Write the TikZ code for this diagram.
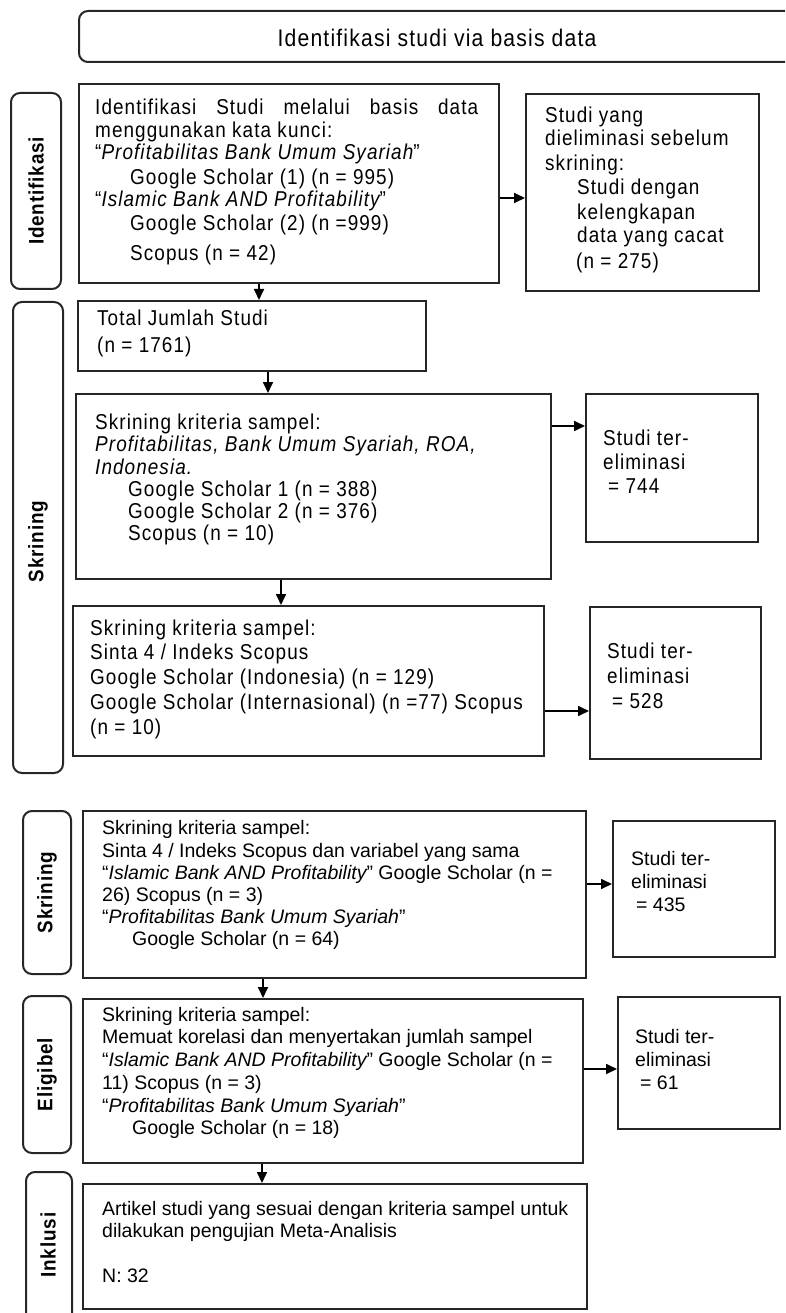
\documentclass[tikz,border=0pt]{standalone}
\usepackage{fontspec}
\setmainfont{Liberation Sans}
\newfontfamily\upf[FakeStretch=0.88,LetterSpace=5]{Liberation Sans}
\newfontfamily\labf[FakeStretch=0.9,LetterSpace=4]{Liberation Sans}
\usetikzlibrary{arrows.meta,calc}
\tikzset{
  box/.style={draw=black!85, line width=2pt, anchor=north west, inner sep=0pt},
  lab/.style={draw=black!85, line width=2pt, rounded corners=9pt, anchor=north west, inner sep=0pt},
  ut/.style={anchor=west, inner sep=0pt, font=\upf\fontsize{21.5}{23}\selectfont, text height=0.75em, text depth=0.25em},
  lt/.style={anchor=west, inner sep=0pt, font=\fontsize{19.5}{23}\selectfont, text height=0.75em, text depth=0.25em},
  labt/.style={rotate=90, inner sep=0pt, font=\labf\bfseries\fontsize{21}{23}\selectfont},
  arr/.style={line width=1.7pt, draw=black, -{Triangle[length=11pt,width=10pt]}},
}
\newcommand\mkbox[6]{\node[#1, minimum width=#4pt-#2pt, minimum height=#5pt-#3pt] (#6) at (#2,#3) {};}
\begin{document}
\begin{tikzpicture}[x=1pt,y=-1pt]
\useasboundingbox (0,0) rectangle (785,1313);
\clip (0,0) rectangle (785,1313);
% header
\mkbox{lab}{78}{10}{800}{61}{head}
\node[inner sep=0pt, font=\upf\fontsize{24}{26}\selectfont] (headt) at (437,38) {Identifikasi studi via basis data};
% labels
\mkbox{lab}{10}{92}{60}{288}{lab1}
\mkbox{lab}{12}{301}{62}{772}{lab2}
\mkbox{lab}{22}{810}{70}{973}{lab3}
\mkbox{lab}{22}{995}{70}{1152}{lab4}
\mkbox{lab}{25}{1171}{71}{1330}{lab5}
\node[labt] (lab1t) at (lab1.center) {Identifikasi};
\node[labt] (lab2t) at ([yshift=-4pt]lab2.center) {Skrining};
\node[labt] (lab3t) at (lab3.center) {Skrining};
\node[labt] (lab4t) at (lab4.center) {Eligibel};
\node[labt] (lab5t) at (48,1245) {Inklusi};
% boxes
\mkbox{box}{78}{83}{498}{282}{id}
\mkbox{box}{525}{93}{758}{290}{el1}
\mkbox{box}{77}{300}{425}{370}{tot}
\mkbox{box}{75}{393}{550}{578}{s1}
\mkbox{box}{585}{393}{757}{541}{el2}
\mkbox{box}{72}{605}{543}{755}{s2}
\mkbox{box}{589}{606}{760}{758}{el3}
\mkbox{box}{82}{810}{585}{977}{s3}
\mkbox{box}{612}{820}{774}{956}{el4}
\mkbox{box}{82}{998}{582}{1162}{s4}
\mkbox{box}{617}{996}{779}{1128}{el5}
\mkbox{box}{82}{1183}{586}{1308}{inc}
% arrows
\draw[arr] ([yshift=-14.5pt]id.east) -- ([yshift=-14.5pt]id.east -| el1.west);
\draw[arr] ([xshift=-30pt]id.south) -- ([xshift=-30pt]id.south |- tot.north);
\draw[arr] ([xshift=16pt]tot.south) -- ([xshift=16pt]tot.south |- s1.north);
\draw[arr] ([yshift=60.5pt]s1.east) -- ([yshift=60.5pt]s1.east -| el2.west);
\draw[arr] ([xshift=-32.5pt]s1.south) -- ([xshift=-32.5pt]s1.south |- s2.north);
\draw[arr] ([yshift=-30pt]s2.east) -- ([yshift=-30pt]s2.east -| el3.west);
\draw[arr] ([yshift=10.5pt]s3.east) -- ([yshift=10.5pt]s3.east -| el4.west);
\draw[arr] ([xshift=-71.5pt]s3.south) -- ([xshift=-71.5pt]s3.south |- s4.north);
\draw[arr] ([yshift=12pt]s4.east) -- ([yshift=12pt]s4.east -| el5.west);
\draw[arr] ([xshift=-71pt]s4.south) -- ([xshift=-71pt]s4.south |- inc.north);
% identification text
\node[ut] (a1) at (95,112) {\makebox[383pt][s]{Identifikasi\hfill Studi\hfill melalui\hfill basis\hfill data}};
\node[ut] (a2) at (95,135) {menggunakan kata kunci:};
\node[ut] (a3) at (95,157) {“{\itshape Profitabilitas Bank Umum Syariah}”};
\node[ut] (a4) at (130,182) {Google Scholar (1) (n = 995)};
\node[ut] (a5) at (95,204) {“{\itshape Islamic Bank AND Profitability}”};
\node[ut] (a6) at (130,228) {Google Scholar (2) (n =999)};
\node[ut] (a7) at (130,258) {Scopus (n = 42)};
% eliminated 1
\node[ut] (b1) at (545,120) {Studi yang};
\node[ut] (b2) at (545,143) {dieliminasi sebelum};
\node[ut] (b3) at (545,168) {skrining:};
\node[ut] (b4) at (577,192) {Studi dengan};
\node[ut] (b5) at (577,217) {kelengkapan};
\node[ut] (b6) at (577,240) {data yang cacat};
\node[ut] (b7) at (576,266) {(n = 275)};
% total
\node[ut] (c1) at (97,323) {Total Jumlah Studi};
\node[ut] (c2) at (97,350) {(n = 1761)};
% skrining 1
\node[ut] (d1) at (95,427) {Skrining kriteria sampel:};
\node[ut] (d2) at (95,449) {\itshape Profitabilitas, Bank Umum Syariah, ROA,};
\node[ut] (d3) at (95,472) {\itshape Indonesia.};
\node[ut] (d4) at (128,494) {Google Scholar 1 (n = 388)};
\node[ut] (d5) at (128,516) {Google Scholar 2 (n = 376)};
\node[ut] (d6) at (128,538) {Scopus (n = 10)};
\node[ut] (e1) at (603,443) {Studi ter-};
\node[ut] (e2) at (603,467) {eliminasi};
\node[ut] (e3) at (603,491) {\hspace{5pt}= 744};
% skrining 2
\node[ut] (f1) at (90,633) {Skrining kriteria sampel:};
\node[ut] (f2) at (90,657) {Sinta 4 / Indeks Scopus};
\node[ut] (f3) at (90,682) {Google Scholar (Indonesia) (n = 129)};
\node[ut] (f4) at (90,707) {Google Scholar (Internasional) (n =77) Scopus};
\node[ut] (f5) at (90,732) {(n = 10)};
\node[ut] (g1) at (607,656) {Studi ter-};
\node[ut] (g2) at (607,681) {eliminasi};
\node[ut] (g3) at (607,706) {\hspace{5pt}= 528};
% skrining 3
\node[lt] (h1) at (102,832) {Skrining kriteria sampel:};
\node[lt] (h2) at (102,855) {Sinta 4 / Indeks Scopus dan variabel yang sama};
\node[lt] (h3) at (102,877) {“{\itshape Islamic Bank AND Profitability}” Google Scholar (n =};
\node[lt] (h4) at (102,899) {26) Scopus (n = 3)};
\node[lt] (h5) at (102,921) {“{\itshape Profitabilitas Bank Umum Syariah}”};
\node[lt] (h6) at (132,943) {Google Scholar (n = 64)};
\node[lt] (i1) at (631,863) {Studi ter-};
\node[lt] (i2) at (631,886) {eliminasi};
\node[lt] (i3) at (631,909) {\hspace{5pt}= 435};
% eligibel
\node[lt] (j1) at (102,1019) {Skrining kriteria sampel:};
\node[lt] (j2) at (102,1041) {Memuat korelasi dan menyertakan jumlah sampel};
\node[lt] (j3) at (102,1064) {“{\itshape Islamic Bank AND Profitability}” Google Scholar (n =};
\node[lt] (j4) at (102,1087) {11) Scopus (n = 3)};
\node[lt] (j5) at (102,1110) {“{\itshape Profitabilitas Bank Umum Syariah}”};
\node[lt] (j6) at (132,1132) {Google Scholar (n = 18)};
\node[lt] (k1) at (635,1041) {Studi ter-};
\node[lt] (k2) at (635,1064) {eliminasi};
\node[lt] (k3) at (635,1087) {\hspace{5pt}= 61};
% inklusi
\node[lt] (l1) at (102,1213) {Artikel studi yang sesuai dengan kriteria sampel untuk};
\node[lt] (l2) at (102,1235) {dilakukan pengujian Meta-Analisis};
\node[lt] (l3) at (102,1280) {N: 32};
\end{tikzpicture}
\end{document}
